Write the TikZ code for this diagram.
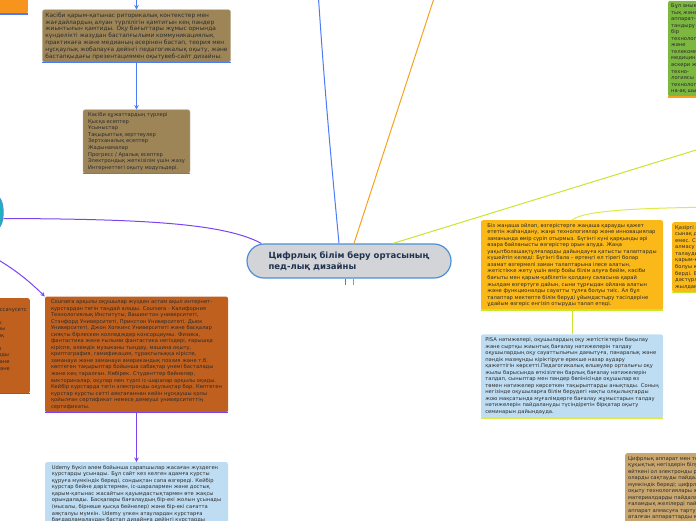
\documentclass[tikz,border=0pt]{standalone}
\usepackage{fontspec}
\setmainfont{DejaVu Sans}
\usetikzlibrary{arrows.meta}

\definecolor{ink}{HTML}{2B2B2B}
\definecolor{brownbox}{HTML}{9E8558}
\definecolor{rustbox}{HTML}{C0601F}
\definecolor{skybox}{HTML}{BFDDF2}
\definecolor{amberbox}{HTML}{FAB819}
\definecolor{grassbox}{HTML}{7CB73F}
\definecolor{tanbox}{HTML}{C9A66E}
\definecolor{orangebox}{HTML}{F7941E}
\definecolor{tealbox}{HTML}{1DB1BE}
\definecolor{hubfill}{HTML}{D2D4D7}
\definecolor{hubline}{HTML}{4D8FD6}
\definecolor{hubtext}{HTML}{1F3350}
\definecolor{lblue}{HTML}{4B7BF5}
\definecolor{lpurple}{HTML}{7A45F0}
\definecolor{lorange}{HTML}{F7A21B}
\definecolor{llime}{HTML}{C5E82D}
\definecolor{lyellow}{HTML}{DCEB4A}
\definecolor{lmagenta}{HTML}{C040E0}
\definecolor{lgreen}{HTML}{4CD04C}

\tikzset{
  card/.style={rectangle,rounded corners=2pt,inner sep=3pt,align=left,
    text=ink,font=\fontsize{5.2}{6.55}\selectfont},
  hub/.style={draw=hubline,fill=hubfill,line width=1.2pt,rounded corners=17pt,
    minimum width=204pt,minimum height=34pt,align=left,text=hubtext,
    font=\bfseries\fontsize{8.5}{10.7}\selectfont},
  link/.style={line width=1pt}
}

\begin{document}
\begin{tikzpicture}[x=1pt,y=-1pt]
  \clip(0,0)rectangle(696,520);%picture frame

  \node[card,fill=orangebox,anchor=south east,minimum height=40pt](edu)at(28,14)
    {Цифрлық технологиялар білім беру үдерісін жаңа\\деңгейге көтеруге мүмкіндік береді, мысалға,};%top left

  \node[card,fill=brownbox,draw=brownbox!60!white,minimum width=183pt,minimum height=50pt,
    font=\fontsize{5.85}{6.8}\selectfont](prof)at(136.5,36)
    {Кәсіби қарым-қатынас риторикалық контекстер мен\\
     жағдайлардың алуан түрлілігін қамтитын кең пәндер\\
     жиынтығын қамтиды. Оқу бағыттары жұмыс орнында\\
     күнделікті жазудан бастапғылыми коммуникациялық\\
     практикаға және медианың әсерінен бастап, теория мен\\
     нұсқаулық жобалауға дейінгі педагогикалық оқыту, және\\
     бастапқыдағы презентациямен оқытувеб-сайт дизайны.};

  \node[card,fill=brownbox,draw=brownbox!60!white,minimum width=107pt,minimum height=63pt](docs)at(136.5,141.5)
    {Кәсіби құжаттардың түрлері\\
     Қысқа есептер\\
     Ұсыныстар\\
     Тақырыптық зерттеулер\\
     Зертханалық есептер\\
     Жадынамалар\\
     Прогресс / Аралық есептер\\
     Электрондық жеткізілім үшін жазу\\
     Интернеттегі оқыту модульдері.};

  \node[draw=hubline,fill=tealbox,rounded corners=20pt,line width=1pt,
    minimum width=120pt,minimum height=47pt](tech)at(-57,212.5){};%left branch

  \node[hub](hub)at(349,261){Цифрлық білім беру ортасының\\пед-лық дизайны};%centre

  \node[card,fill=rustbox,minimum width=183pt,minimum height=115pt](coursera)at(136.5,354.5)
    {Coursera арқылы оқушылар жүзден астам ақыл интернет-\\
     курстардан тегін таңдай алады. Coursera - Калифорния\\
     Технологиялық Институты, Вашингтон университеті,\\
     Стэнфорд Университеті, Принстон Университеті, Дьюк\\
     Университеті, Джон Хопкинс Университеті және басқалар\\
     сияқты бірлескен колледждер консорциумы. Физика,\\
     фантастика және ғылыми фантастика негіздері, ғарышқа\\
     кіріспе, әлемдік музыканы тыңдау, машина оқыту,\\
     криптография, гамификация, тұрақтылыққа кіріспе,\\
     заманауи және заманауи американдық поэзия және т.б.\\
     көптеген тақырыптар бойынша сабақтар үнемі басталады\\
     және кең таралған. Көбірек. Студенттер бейнелер,\\
     викториналар, оқулар мен түрлі іс-шаралар арқылы оқиды.\\
     Кейбір курстарда тегін электронды оқулықтар бар. Көптеген\\
     курстар курсты сәтті аяқтағаннан кейін нұсқаушы қолы\\
     қойылған сертификат немесе демеуші университеттің\\
     сертификаты.};

  \node[card,fill=skybox,minimum width=183pt,anchor=north](udemy)at(136.5,462)
    {Udemy бүкіл әлем бойынша сарапшылар жасаған жүздеген\\
     курстарды ұсынады. Бұл сайт кез келген адамға курсты\\
     құруға мүмкіндік береді, сондықтан сапа өзгереді. Кейбір\\
     курстар бейне дәрістермен, іс-шаралармен және достық\\
     қарым-қатынас жасайтын қауымдастықтармен өте жақсы\\
     орындалады. Басқалары бағалаудың бір-екі жолын ұсынады\\
     (мысалы, бірнеше қысқа бейнелер) және бір-екі сағатта\\
     аяқталуы мүмкін. Udemy үлкен атаулардан курстарға\\
     бағдарламалаудан бастап дизайнға дейінгі курстарды\\
     ұсынады.};

  \node[card,fill=rustbox,anchor=north east,minimum height=95pt](edx)at(30,298)
    {edX – Гарвард университеті мен Массачусетс\\
     технологиялық институты құрған\\
     ашық онлайн-курстар платформасы\\
     және жетекші жоғары оқу орындары\\
     ұсынатын жүздеген тегін пәнаралық\\
     курстар бар.\\
     Курстар бейнедәрістер мен тесттер\\
     арқылы өтеді, оқушылар оқулықтарды\\
     тегін пайдалана алады, форумға және\\
     өз бетімен оқи алады, семинарға және\\
     сертификат алу үшін курстарды\\
     Coursera, Udemy және edX,};

  \node[card,fill=amberbox,minimum width=182pt,minimum height=86pt](change)at(572,265)
    {Біз жаңаша ойлап, өзгерістерге жаңаша қарауды қажет\\
     ететін жаһандану, жаңа технологиялар және инновациялар\\
     заманында өмір сүріп отырмыз. Бүгінгі күні қарқынды әрі\\
     өзара байланысты өзгерістер орын алуда. Жаңа\\
     уақытболашақтұлғаларды дайындауға қатысты талаптарды\\
     күшейтіп келеді: Бүгінгі бала – ертеңгі ел тірегі болар\\
     азамат өзгермелі заман талаптарына ілесе алатын,\\
     жетістікке жету үшін өмір бойы білім алуға бейім, кәсіби\\
     бағыты мен қарым-қабілетін қолдану саласына қарай\\
     жылдам өзгертуге дайын, сыни тұрғыдан ойлана алатын\\
     және функционалды сауатты тұлға болуы тиіс. Ал бұл\\
     талаптар мектепте білім беруді ұйымдастыру тәсілдеріне\\
     ұдайым өзгеріс енгізіп отыруды талап етеді.};

  \node[card,fill=skybox,minimum width=182pt,minimum height=82pt](pisa)at(572,376)
    {PISA нәтижелері, оқушылардың оқу жетістіктерін бақылау\\
     және сыртқы жиынтық бағалау нәтижелерін талдау\\
     оқушылардың оқу сауаттылығын дамытуға, пәнаралық және\\
     пәндік мазмұнды кіріктіруге ерекше назар аудару\\
     қажеттігін көрсетті.Педагогикалық өлшеулер орталығы оқу\\
     жылы барысында өткізілген барлық бағалау нәтижелерін\\
     талдап, сыныптар мен пәндер бөлінісінде оқушылар өз\\
     төмен нәтижелер көрсеткен тақырыптарды анықтады. Соның\\
     негізінде оқушыларға білім берудегі нақты олқылықтарды\\
     жою мақсатында мұғалімдерге бағалау жұмыстарын талдау\\
     нәтижелерін пайдалануды түсіндіретін бірқатар оқыту\\
     семинарын дайындауда.};

  \node[card,fill=amberbox,anchor=north west,minimum height=68pt](today)at(672,222)
    {Қазіргі заманғы білім беру\\
     сынақ дәуірін бастан кешуде\\
     емес. Сондықтан ақпарат\\
     алмасу үдерісі\\
     талаудың жаңа түрі\\
     қарым-қатынас\\
     болуы қажеттігін көрсетіп\\
     берді. Бұл\\
     дәстүрлі оқытудан\\
     жылдам өзгеруде};

  \node[card,fill=grassbox,anchor=south west](gadget)at(668,97)
    {Бұл анықтама-\\
     тық және\\
     аппарат-\\
     тандыру\\
     бір\\
     технология\\
     және\\
     телекоммуникация\\
     медицина\\
     әскери және\\
     техно-\\
     логиясы\\
     технологиясы\\
     на-ақ шығарады};

  \node[card,fill=tanbox,anchor=north west](law)at(625,453)
    {Цифрлық аппарат мен технологиялардың\\
     құқықтық негіздерін білу маңызды,\\
     өйткені ол электронды ресурстарды\\
     оларды сақтауды пайдалануға\\
     мүмкіндік береді; цифрлық\\
     оқыту технологиялары және\\
     материалдарды пайдалану;\\
     ғаламдық желілерді пайдалану;\\
     аппарат алмасуға тарту;\\
     аталған аппараттарды қолдана\\
     білу мәдениеті; басқа да};

  \foreach \n/\c in{edu/lblue,prof/lblue,docs/lblue,coursera/lpurple,edx/lpurple,
      change/llime,pisa/lyellow,today/llime,gadget/lorange}
    \draw[\c,line width=1.5pt](\n.south west)--(\n.south east);%underline

  %off-screen ends
  \coordinate(profroot)at(136.5,-25);
  \coordinate(blueroot)at(318,-10);
  \coordinate(orangeroot)at(440,-20);
  \coordinate(limeroot)at(800,118);
  \coordinate(changeroot)at(720,207);
  \coordinate(magend)at(345,285);
  \coordinate(greenend)at(353,285);

  \draw[link,lblue,->,>=stealth](profroot)--(prof.north);
  \draw[link,lblue,->,>=stealth](prof.south)--(docs.north);
  \draw[link,lblue]([xshift=-10pt]hub.north)..controls(335,200)and(325,100)..(blueroot);
  \draw[link,lorange]([xshift=5pt]hub.north)--(orangeroot);
  \draw[link,llime]([xshift=44pt]hub.north)--(limeroot);
  \draw[link,lyellow](changeroot)..controls(640,208)and(585,210)..(change.north);
  \draw[link,llime](change.south)--(pisa.north);
  \draw[link,lpurple]([yshift=-6pt]tech.east)..controls(150,219)and(225,224)..([xshift=15pt]hub.north west);
  \draw[link,lpurple,->,>=stealth](tech.south)..controls(-10,250)and(20,272)..(coursera.north west);
  \draw[link,lpurple,->,>=stealth](coursera.south)--(udemy.north);
  \draw[link,lmagenta]([xshift=-4pt]hub.south)--(magend);
  \draw[link,lgreen]([xshift=4pt]hub.south)--(greenend);
\end{tikzpicture}
\end{document}
